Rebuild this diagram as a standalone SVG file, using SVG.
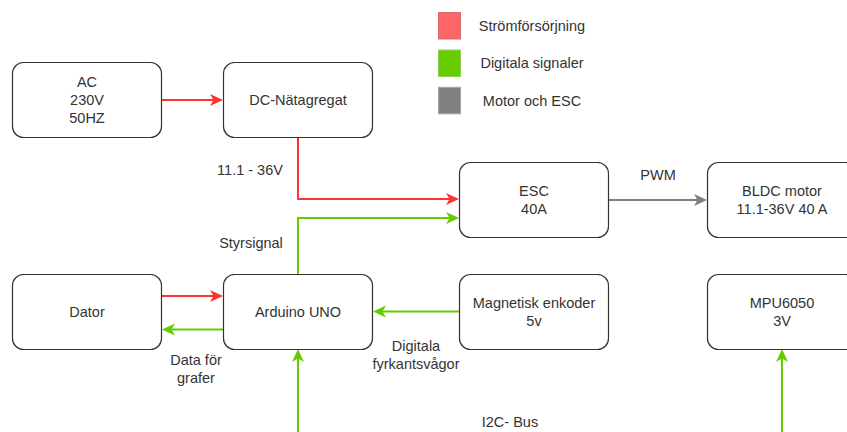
<svg xmlns="http://www.w3.org/2000/svg" width="847" height="432" viewBox="0 0 847 432">
<style>
  .box { fill: #ffffff; stroke: #333333; stroke-width: 1.2; }
  .t { font-family: "Liberation Sans", Arial, sans-serif; font-size: 14.5px; fill: #333333; text-anchor: middle; }
  .red { stroke: #ff3333; stroke-width: 2; fill: none; }
  .green { stroke: #66cc00; stroke-width: 2; fill: none; }
  .gray { stroke: #808080; stroke-width: 2; fill: none; }
</style>
<defs>
  <marker id="aRed" markerUnits="userSpaceOnUse" markerWidth="14" markerHeight="14" refX="4" refY="0" viewBox="0 -7 14 14" orient="auto" overflow="visible">
    <path d="M13,0 L0,-6 L3.5,0 L0,6 Z" fill="#ff3333"/>
  </marker>
  <marker id="aGreen" markerUnits="userSpaceOnUse" markerWidth="14" markerHeight="14" refX="4" refY="0" viewBox="0 -7 14 14" orient="auto" overflow="visible">
    <path d="M13,0 L0,-6 L3.5,0 L0,6 Z" fill="#66cc00"/>
  </marker>
  <marker id="aGray" markerUnits="userSpaceOnUse" markerWidth="14" markerHeight="14" refX="4" refY="0" viewBox="0 -7 14 14" orient="auto" overflow="visible">
    <path d="M13,0 L0,-6 L3.5,0 L0,6 Z" fill="#808080"/>
  </marker>
</defs>
<rect width="847" height="432" fill="#ffffff"/>

<g id="legend">
  <rect x="438.5" y="12.5" width="22" height="26.5" fill="#ff6666" stroke="#d86a6a" stroke-width="1"/>
  <rect x="438.5" y="50" width="22" height="26.5" fill="#66cc00" stroke="#8fd14f" stroke-width="1"/>
  <rect x="438.5" y="87.3" width="22" height="26.5" fill="#808080" stroke="#a6a6a6" stroke-width="1"/>
  <text class="t" x="532" y="30.5">Strömförsörjning</text>
  <text class="t" x="532" y="68">Digitala signaler</text>
  <text class="t" x="532" y="105.5">Motor och ESC</text>
</g>

<g id="connectors">
  <path class="red" d="M162,100 L214,100" marker-end="url(#aRed)"/>
  <path class="red" d="M298,137.5 L298,199 L450,199" marker-end="url(#aRed)"/>
  <path class="green" d="M298,274 L298,218 L450,218" marker-end="url(#aGreen)"/>
  <path class="gray" d="M609,200 L698,200" marker-end="url(#aGray)"/>
  <path class="red" d="M162,296 L214,296" marker-end="url(#aRed)"/>
  <path class="green" d="M223,329.5 L171,329.5" marker-end="url(#aGreen)"/>
  <path class="green" d="M459,311.5 L382,311.5" marker-end="url(#aGreen)"/>
  <path class="green" d="M298,432 L298,358" marker-end="url(#aGreen)"/>
  <path class="green" d="M782,432 L782,358" marker-end="url(#aGreen)"/>
  <text class="t" x="250" y="175">11.1 - 36V</text>
  <text class="t" x="251" y="247.5">Styrsignal</text>
  <text class="t" x="658" y="179.5">PWM</text>
  <text class="t" x="196" y="365">Data för</text>
  <text class="t" x="196" y="382.5">grafer</text>
  <text class="t" x="416" y="351">Digitala</text>
  <text class="t" x="416" y="368.5">fyrkantsvågor</text>
  <text class="t" x="510" y="426.5">I2C- Bus</text>
</g>

<g id="ac">
  <rect class="box" x="12.5" y="62.5" width="149" height="75" rx="11"/>
  <text class="t" x="87" y="86.5">AC</text>
  <text class="t" x="87" y="104.5">230V</text>
  <text class="t" x="87" y="122.5">50HZ</text>
</g>
<g id="dc">
  <rect class="box" x="223.5" y="62.5" width="149" height="75" rx="11"/>
  <text class="t" x="298" y="105">DC-Nätagregat</text>
</g>
<g id="esc">
  <rect class="box" x="459.5" y="162.5" width="149" height="75" rx="11"/>
  <text class="t" x="534" y="196">ESC</text>
  <text class="t" x="534" y="214">40A</text>
</g>
<g id="bldc">
  <rect class="box" x="707.5" y="162.5" width="149" height="75" rx="11"/>
  <text class="t" x="782" y="196">BLDC motor</text>
  <text class="t" x="782" y="214">11.1-36V 40 A</text>
</g>
<g id="dator">
  <rect class="box" x="12.5" y="274.5" width="149" height="75" rx="11"/>
  <text class="t" x="87" y="316.5">Dator</text>
</g>
<g id="arduino">
  <rect class="box" x="223.5" y="274.5" width="149" height="75" rx="11"/>
  <text class="t" x="298" y="316.5">Arduino UNO</text>
</g>
<g id="enkoder">
  <rect class="box" x="459.5" y="274.5" width="149" height="75" rx="11"/>
  <text class="t" x="534" y="307.5">Magnetisk enkoder</text>
  <text class="t" x="534" y="325.5">5v</text>
</g>
<g id="mpu">
  <rect class="box" x="707.5" y="274.5" width="149" height="75" rx="11"/>
  <text class="t" x="782" y="307.5">MPU6050</text>
  <text class="t" x="782" y="325.5">3V</text>
</g>
</svg>
